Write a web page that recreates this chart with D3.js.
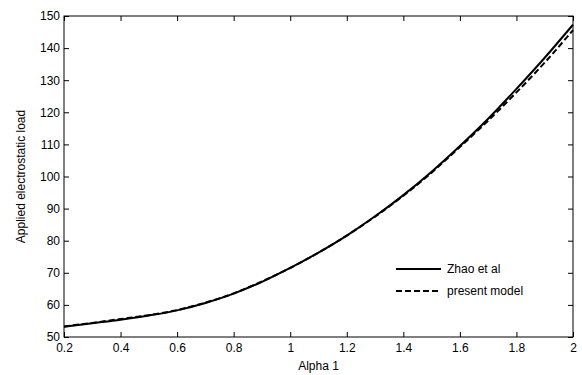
<!DOCTYPE html>
<html><head><meta charset="utf-8">
<script src="https://cdn.jsdelivr.net/npm/d3@7"></script>
<style>body{margin:0;background:#fff}svg{display:block}text{font-family:"Liberation Sans",Arial,sans-serif;font-size:12px;fill:#000}</style>
</head><body><svg id="c" width="582" height="375"></svg>
<script>
const alpha = [0.2,0.3,0.4,0.5,0.6,0.7,0.8,0.9,1.0,1.1,1.2,1.3,1.4,1.5,1.6,1.7,1.8,1.9,2.0];
const zhao = [53.2,54.3,55.4,56.7,58.3,60.6,63.5,67.2,71.5,76.3,81.6,87.6,94.2,101.5,109.5,118.0,127.3,137.0,147.3];
const present = [53.3,54.4,55.6,56.8,58.4,60.7,63.6,67.3,71.5,76.3,81.6,87.5,94.0,101.2,109.2,117.4,126.2,135.5,145.6];
const xTicks = [0.2,0.4,0.6,0.8,1,1.2,1.4,1.6,1.8,2];
const yTicks = [50,60,70,80,90,100,110,120,130,140,150];
const seriesNames = ["Zhao et al","present model"];

const svg = d3.select("#c");
const L=64,R=573,T=16,B=337;
const x = d3.scaleLinear().domain([0.2,2]).range([L,R]);
const y = d3.scaleLinear().domain([50,150]).range([B,T]);

svg.append("rect").attr("x",L).attr("y",T).attr("width",R-L).attr("height",B-T).attr("fill","none").attr("stroke","#000").attr("stroke-width",1);

const fmt = d=>String(d);
const gB = svg.append("g").attr("transform",`translate(0,${B})`).call(d3.axisBottom(x).tickValues(xTicks).tickFormat(fmt).tickSizeInner(-5).tickSizeOuter(0).tickPadding(4));
const gT = svg.append("g").attr("transform",`translate(0,${T})`).call(d3.axisTop(x).tickValues(xTicks).tickFormat("").tickSizeInner(-5).tickSizeOuter(0));
const gL = svg.append("g").attr("transform",`translate(${L},0)`).call(d3.axisLeft(y).tickValues(yTicks).tickFormat(fmt).tickSizeInner(-5).tickSizeOuter(0).tickPadding(4));
const gR = svg.append("g").attr("transform",`translate(${R},0)`).call(d3.axisRight(y).tickValues(yTicks).tickFormat("").tickSizeInner(-5).tickSizeOuter(0));
[gB,gT,gL,gR].forEach(g=>{g.select(".domain").remove();g.selectAll("text").attr("font-size",12).attr("font-family","Liberation Sans, Arial, sans-serif").attr("fill","#000");g.selectAll("line").attr("stroke","#000");});
gB.selectAll("text").attr("dy","0.9em");

const line = d3.line().x((d,i)=>x(alpha[i])).y(d=>y(d)).curve(d3.curveMonotoneX);
svg.append("path").datum(zhao).attr("d",line).attr("fill","none").attr("stroke","#000").attr("stroke-width",2);
svg.append("path").datum(present).attr("d",line).attr("fill","none").attr("stroke","#000").attr("stroke-width",2).attr("stroke-dasharray","6,3");

svg.append("text").attr("x",(L+R)/2).attr("y",370).attr("text-anchor","middle").text("Alpha 1");
svg.append("text").attr("transform",`translate(25,${(T+B)/2}) rotate(-90)`).attr("text-anchor","middle").text("Applied electrostatic load");

const leg = svg.append("g");
seriesNames.forEach((n,i)=>{
  const yy = 269 + i*22;
  leg.append("line").attr("x1",396).attr("x2",441).attr("y1",yy).attr("y2",yy).attr("stroke","#000").attr("stroke-width",2).attr("stroke-dasharray",i?"6,3":null);
  leg.append("text").attr("x",447).attr("y",yy+4).text(n);
});
</script></body></html>
